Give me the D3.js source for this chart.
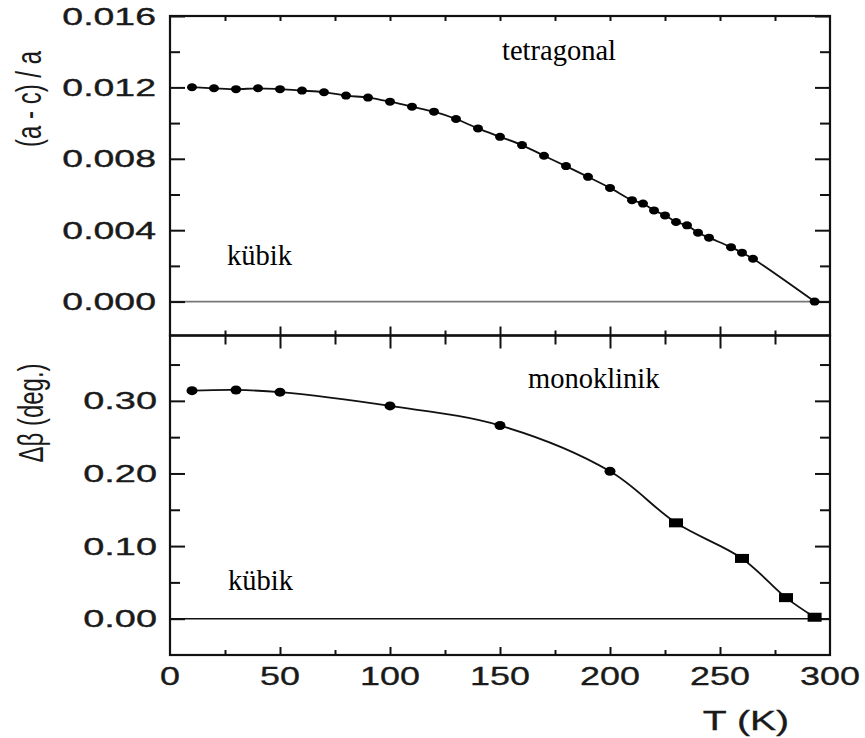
<!DOCTYPE html>
<html>
<head>
<meta charset="utf-8">
<script src="https://cdn.jsdelivr.net/npm/d3@7"></script>
<style>
  body { margin: 0; background: #fff; }
  .num { font-family: "Liberation Sans", Arial, sans-serif; fill: #1a1a1a; stroke: #1a1a1a; stroke-width: 0.35; }
  .note { font-family: "Liberation Serif", "Times New Roman", serif; font-size: 28.5px; fill: #000; }
</style>
</head>
<body>
<div id="chart"></div>
<script>
// chart size
const width = 865;
const height = 738;

// top panel : (a-c)/a vs T
const tempA = [10, 20, 30, 40, 50, 60, 70, 80, 90, 100, 110, 120, 130, 140, 150,
  160, 170, 180, 190, 200, 210, 215, 220, 225, 230, 235, 240, 245, 255, 260, 265, 293];
const strainA = [0.01201, 0.01195, 0.01190, 0.01195, 0.01190, 0.01182, 0.01173, 0.01154,
  0.01143, 0.01120, 0.01092, 0.01064, 0.01023, 0.00970, 0.00923, 0.00877, 0.00817,
  0.00759, 0.00699, 0.00637, 0.00568, 0.00549, 0.00511, 0.00483, 0.00446, 0.00427,
  0.00386, 0.00358, 0.00305, 0.00274, 0.00240, 0.0];

// bottom panel : delta beta vs T
const tempB = [10, 30, 50, 100, 150, 200, 230, 260, 280, 293];
const betaB = [0.314, 0.315, 0.312, 0.293, 0.266, 0.203, 0.132, 0.083, 0.029, 0.002];
const shapeB = ["circle", "circle", "circle", "circle", "circle", "circle", "square", "square", "square", "square"];

// tick labels
const xTicks = [0, 50, 100, 150, 200, 250, 300];
const yTicksA = [0.000, 0.004, 0.008, 0.012, 0.016];
const yTicksB = [0.00, 0.10, 0.20, 0.30];

const svg = d3.select("#chart")
  .append("svg")
  .attr("width", width)
  .attr("height", height);

// scales
const x = d3.scaleLinear().domain([0, 300]).range([170, 830]);
const yA = d3.scaleLinear().domain([-0.0019, 0.016]).range([335.5, 16]);
const yB = d3.scaleLinear().domain([-0.05, 0.39]).range([655, 335.5]);

const xMinor = d3.range(25, 300, 50);
const yMinorA = [0.002, 0.006, 0.010, 0.014];
const yMinorB = [0.05, 0.15, 0.25, 0.35];

// helper: draw an axis with only ticks
function ticks(axis, transform) {
  const g = svg.append("g")
    .attr("transform", transform)
    .call(axis.tickFormat("").tickSizeOuter(0));
  g.select(".domain").remove();
  g.selectAll("line").attr("stroke", "#111").attr("stroke-width", 2);
  return g;
}

// zero lines
svg.append("line")
  .attr("x1", x(0)).attr("x2", x(300))
  .attr("y1", yA(0)).attr("y2", yA(0))
  .attr("stroke", "#777").attr("stroke-width", 1.6);
svg.append("line")
  .attr("x1", x(0)).attr("x2", x(300))
  .attr("y1", yB(0)).attr("y2", yB(0))
  .attr("stroke", "#111").attr("stroke-width", 1.6);

// top panel ticks
ticks(d3.axisLeft(yA).tickValues(yTicksA).tickSize(-15), `translate(${x(0)},0)`);
ticks(d3.axisLeft(yA).tickValues(yMinorA).tickSize(-10), `translate(${x(0)},0)`);
ticks(d3.axisRight(yA).tickValues(yTicksA).tickSize(-15), `translate(${x(300)},0)`);
ticks(d3.axisRight(yA).tickValues(yMinorA).tickSize(-10), `translate(${x(300)},0)`);
ticks(d3.axisTop(x).tickValues(d3.range(25, 300, 25)).tickSize(-5), `translate(0,${yA.range()[1]})`);
ticks(d3.axisBottom(x).tickValues(xTicks.slice(1, -1)).tickSize(-9), `translate(0,${yA.range()[0]})`);
ticks(d3.axisBottom(x).tickValues(xMinor).tickSize(-5), `translate(0,${yA.range()[0]})`);

// bottom panel ticks
ticks(d3.axisLeft(yB).tickValues(yTicksB).tickSize(-15), `translate(${x(0)},0)`);
ticks(d3.axisLeft(yB).tickValues(yMinorB).tickSize(-10), `translate(${x(0)},0)`);
ticks(d3.axisRight(yB).tickValues(yTicksB).tickSize(-15), `translate(${x(300)},0)`);
ticks(d3.axisRight(yB).tickValues(yMinorB).tickSize(-10), `translate(${x(300)},0)`);
ticks(d3.axisTop(x).tickValues(xTicks.slice(1, -1)).tickSize(-13), `translate(0,${yB.range()[1]})`);
ticks(d3.axisTop(x).tickValues(xMinor).tickSize(-9), `translate(0,${yB.range()[1]})`);
ticks(d3.axisBottom(x).tickValues(xTicks.slice(1, -1)).tickSize(-8), `translate(0,${yB.range()[0]})`);
ticks(d3.axisBottom(x).tickValues(xMinor).tickSize(-5), `translate(0,${yB.range()[0]})`);

// frames
[yA, yB].forEach(s => {
  svg.append("rect")
    .attr("x", x(0)).attr("y", s.range()[1])
    .attr("width", x(300) - x(0))
    .attr("height", s.range()[0] - s.range()[1])
    .attr("fill", "none")
    .attr("stroke", "#111")
    .attr("stroke-width", 2.2);
});

// tick labels (the original lettering is stretched sideways)
svg.selectAll(".ylabA")
  .data(yTicksA)
  .join("text")
  .attr("class", "num")
  .attr("font-size", 24)
  .attr("text-anchor", "end")
  .attr("transform", d => `translate(156,${yA(d) + 8.5}) scale(1.56,1)`)
  .text(d3.format(".3f"));

svg.selectAll(".ylabB")
  .data(yTicksB)
  .join("text")
  .attr("class", "num")
  .attr("font-size", 24)
  .attr("text-anchor", "end")
  .attr("transform", d => `translate(157,${yB(d) + 8.5}) scale(1.58,1)`)
  .text(d3.format(".2f"));

svg.selectAll(".xlab")
  .data(xTicks)
  .join("text")
  .attr("class", "num")
  .attr("font-size", 26)
  .attr("text-anchor", "middle")
  .attr("transform", d => `translate(${x(d)},685) scale(1.38,1)`)
  .text(d => d);

// axis titles
svg.append("text")
  .attr("class", "num")
  .attr("font-size", 24)
  .attr("text-anchor", "middle")
  .attr("dominant-baseline", "central")
  .attr("transform", "translate(28,99) rotate(-90) scale(1,1.5)")
  .style("stroke-width", 0)
  .text("(a - c) / a");

svg.append("text")
  .attr("class", "num")
  .attr("font-size", 24)
  .attr("text-anchor", "middle")
  .attr("dominant-baseline", "central")
  .attr("transform", "translate(30,413) rotate(-90) scale(1,1.5)")
  .style("stroke-width", 0)
  .text("Δβ (deg.)");

svg.append("text")
  .attr("class", "num")
  .attr("font-size", 28)
  .attr("text-anchor", "middle")
  .attr("transform", "translate(746,730) scale(1.4,1)")
  .text("T (K)");

// curves
const dataA = tempA.map((t, i) => ({t: t, v: strainA[i]}));
const dataB = tempB.map((t, i) => ({t: t, v: betaB[i], s: shapeB[i]}));

svg.append("path")
  .datum(dataA)
  .attr("fill", "none")
  .attr("stroke", "#111")
  .attr("stroke-width", 1.8)
  .attr("d", d3.line().x(d => x(d.t)).y(d => yA(d.v)).curve(d3.curveCatmullRom.alpha(0.5)));

svg.append("path")
  .datum(dataB)
  .attr("fill", "none")
  .attr("stroke", "#111")
  .attr("stroke-width", 1.8)
  .attr("d", d3.line().x(d => x(d.t)).y(d => yB(d.v)).curve(d3.curveCatmullRom.alpha(0.5)));

// markers
svg.selectAll(".dotA")
  .data(dataA)
  .join("ellipse")
  .attr("cx", d => x(d.t))
  .attr("cy", d => yA(d.v))
  .attr("rx", 5)
  .attr("ry", 4)
  .attr("fill", "#000");

svg.selectAll(".dotB")
  .data(dataB.filter(d => d.s === "circle"))
  .join("ellipse")
  .attr("cx", d => x(d.t))
  .attr("cy", d => yB(d.v))
  .attr("rx", 5.5)
  .attr("ry", 4.5)
  .attr("fill", "#000");

svg.selectAll(".sqB")
  .data(dataB.filter(d => d.s === "square"))
  .join("rect")
  .attr("x", d => x(d.t) - 7)
  .attr("y", d => yB(d.v) - 4.5)
  .attr("width", 14)
  .attr("height", 9)
  .attr("fill", "#000");

// phase notes
svg.append("text").attr("class", "note").attr("x", 502).attr("y", 60).text("tetragonal");
svg.append("text").attr("class", "note").attr("x", 227).attr("y", 265).text("kübik");
svg.append("text").attr("class", "note").attr("x", 528).attr("y", 388).text("monoklinik");
svg.append("text").attr("class", "note").attr("x", 228).attr("y", 590).text("kübik");
</script>
</body>
</html>
